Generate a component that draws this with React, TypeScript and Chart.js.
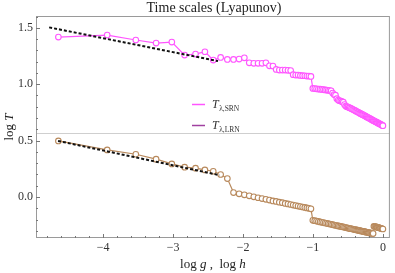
import React, { useEffect, useRef } from "react";
import { Chart, registerables } from "chart.js";

Chart.register(...registerables);

// log g (= log h) abscissae
const logG = [
  -4.640, -3.942, -3.533, -3.243, -3.018, -2.835, -2.679, -2.545, -2.426, -2.320,
  -2.224, -2.136, -2.056, -1.981, -1.911, -1.846, -1.785, -1.728, -1.673, -1.622,
  -1.572, -1.526, -1.481, -1.438, -1.397, -1.357, -1.319, -1.283, -1.247, -1.213,
  -1.180, -1.148, -1.117, -1.087, -1.058, -1.029, -1.002, -0.975, -0.949, -0.923,
  -0.898, -0.874, -0.850, -0.827, -0.805, -0.782, -0.761, -0.740, -0.719, -0.698,
  -0.678, -0.659, -0.640, -0.621, -0.602, -0.584, -0.566, -0.549, -0.532, -0.515,
  -0.498, -0.482, -0.466, -0.450, -0.434, -0.419, -0.404, -0.389, -0.374, -0.359,
  -0.345, -0.331, -0.317, -0.303, -0.290, -0.277, -0.263, -0.250, -0.238, -0.225,
  -0.212, -0.200, -0.188, -0.176, -0.164, -0.152, -0.140, -0.129, -0.117, -0.106,
  -0.095, -0.084, -0.073, -0.062, -0.052, -0.041, -0.031, -0.020, -0.010, 0,
];

// log T for the SRN (magenta) series
const tSRN = [
  1.418, 1.436, 1.392, 1.365, 1.374, 1.258, 1.267, 1.288, 1.214, 1.238,
  1.220, 1.220, 1.223, 1.234, 1.190, 1.185, 1.185, 1.185, 1.190, 1.163,
  1.161, 1.131, 1.125, 1.125, 1.125, 1.123, 1.121, 1.085, 1.081, 1.081,
  1.078, 1.076, 1.075, 1.072, 1.072, 1.069, 0.963, 0.961, 0.959, 0.957,
  0.956, 0.954, 0.952, 0.949, 0.948, 0.946, 0.944, 0.941, 0.921, 0.908,
  0.903, 0.872, 0.859, 0.854, 0.850, 0.845, 0.841, 0.819, 0.806, 0.801,
  0.797, 0.792, 0.788, 0.783, 0.778, 0.773, 0.768, 0.763, 0.758, 0.753,
  0.748, 0.743, 0.739, 0.734, 0.730, 0.726, 0.721, 0.717, 0.712, 0.708,
  0.704, 0.700, 0.695, 0.692, 0.687, 0.683, 0.679, 0.676, 0.671, 0.668,
  0.664, 0.661, 0.657, 0.653, 0.650, 0.647, 0.643, 0.639, 0.636, 0.632,
];

// log T for the LRN (brown) series
const tLRN = [
  0.497, 0.417, 0.379, 0.335, 0.293, 0.264, 0.255, 0.240, 0.228, 0.199,
  0.163, 0.039, 0.028, 0.019, 0.010, 0.001, -0.007, -0.014, -0.021, -0.028,
  -0.035, -0.040, -0.046, -0.051, -0.057, -0.062, -0.067, -0.072, -0.076, -0.081,
  -0.085, -0.089, -0.093, -0.097, -0.101, -0.105, -0.207, -0.210, -0.214, -0.217,
  -0.221, -0.225, -0.227, -0.231, -0.234, -0.237, -0.240, -0.242, -0.246, -0.249,
  -0.251, -0.254, -0.257, -0.259, -0.261, -0.264, -0.266, -0.269, -0.271, -0.274,
  -0.276, -0.278, -0.281, -0.282, -0.284, -0.287, -0.289, -0.290, -0.293, -0.295,
  -0.297, -0.298, -0.301, -0.303, -0.305, -0.306, -0.308, -0.310, -0.312, -0.313,
  -0.315, -0.317, -0.319, -0.321, -0.321, -0.323, -0.325, -0.260, -0.262, -0.264,
  -0.266, -0.268, -0.270, -0.272, -0.274, -0.276, -0.278, -0.280, -0.282, -0.284,
];

// dashed fit lines (end points)
const fitSRNx = [-4.772, -2.358];
const fitSRNy = [1.504, 1.205];
const fitLRNx = [-4.645, -2.334];
const fitLRNy = [0.497, 0.193];

const xTicks = [-4, -3, -2, -1, 0];
const yTicks = [0, 0.5, 1.0, 1.5];
const refLineY = 0.563;

const titleText = "Time scales (Lyapunov)";
const legendItems = [
  { sub: "λ,SRN", color: "#ff55ff" },
  { sub: "λ,LRN", color: "#a040a0" },
];

const MAGENTA = "#ff55ff";
const BROWN = "#b8895c";
const SERIF = "'Liberation Serif', 'DejaVu Serif', serif";

const framePlugin = {
  id: "mmaFrame",
  beforeDatasetsDraw(chart: any) {
    const { ctx, chartArea: a, scales } = chart;
    const ry = Math.round(scales.y.getPixelForValue(refLineY)) + 0.5;
    ctx.save();
    ctx.strokeStyle = "#cfcfcf";
    ctx.lineWidth = 1;
    ctx.beginPath();
    ctx.moveTo(a.left, ry);
    ctx.lineTo(a.right, ry);
    ctx.stroke();
    ctx.restore();
  },
  afterDraw(chart: any) {
    const { ctx, chartArea: a, scales } = chart;
    const xs = scales.x;
    const ys = scales.y;
    ctx.save();
    // frame
    ctx.strokeStyle = "#9a9a9a";
    ctx.lineWidth = 1;
    ctx.strokeRect(a.left + 0.5, a.top + 0.5, a.right - a.left - 1, a.bottom - a.top - 1);
    // ticks
    ctx.strokeStyle = "#777";
    ctx.beginPath();
    for (let i = -24; i <= 0; i++) {
      const v = i / 5;
      const px = Math.round(xs.getPixelForValue(v)) + 0.5;
      const len = i % 5 === 0 ? 4 : 2;
      ctx.moveTo(px, a.bottom);
      ctx.lineTo(px, a.bottom - len);
    }
    for (let i = -3; i <= 16; i++) {
      const v = i / 10;
      const py = Math.round(ys.getPixelForValue(v)) + 0.5;
      const len = i % 5 === 0 ? 4 : 2;
      ctx.moveTo(a.left, py);
      ctx.lineTo(a.left + len, py);
    }
    ctx.stroke();

    // title
    ctx.fillStyle = "#222";
    ctx.font = `14px ${SERIF}`;
    ctx.textAlign = "center";
    ctx.textBaseline = "middle";
    ctx.fillText(titleText, (a.left + a.right) / 2 + 1, 8.5);

    // x axis title: log g , log h
    const parts: [string, boolean][] = [["log ", false], ["g", true], [" ,  log ", false], ["h", true]];
    ctx.textAlign = "left";
    ctx.textBaseline = "alphabetic";
    let total = 0;
    for (const [t, it] of parts) {
      ctx.font = `${it ? "italic " : ""}13px ${SERIF}`;
      total += ctx.measureText(t).width;
    }
    let cx = (a.left + a.right) / 2 - total / 2;
    for (const [t, it] of parts) {
      ctx.font = `${it ? "italic " : ""}13px ${SERIF}`;
      ctx.fillText(t, cx, 268);
      cx += ctx.measureText(t).width;
    }

    // y axis title: log T
    ctx.save();
    ctx.translate(13, 127);
    ctx.rotate(-Math.PI / 2);
    const yparts: [string, boolean][] = [["log ", false], ["T", true]];
    let yt = 0;
    for (const [t, it] of yparts) {
      ctx.font = `${it ? "italic " : ""}13px ${SERIF}`;
      yt += ctx.measureText(t).width;
    }
    let cy = -yt / 2;
    for (const [t, it] of yparts) {
      ctx.font = `${it ? "italic " : ""}13px ${SERIF}`;
      ctx.fillText(t, cy, 0);
      cy += ctx.measureText(t).width;
    }
    ctx.restore();

    // legend
    legendItems.forEach((item, i) => {
      const ly = 104 + i * 21;
      ctx.strokeStyle = item.color;
      ctx.lineWidth = 1.5;
      ctx.beginPath();
      ctx.moveTo(192, ly + 0.5);
      ctx.lineTo(205, ly + 0.5);
      ctx.stroke();
      ctx.fillStyle = "#333";
      ctx.font = `italic 12px ${SERIF}`;
      ctx.textBaseline = "alphabetic";
      ctx.fillText("T", 212, ly + 4);
      const tw = ctx.measureText("T").width;
      ctx.font = `7.5px ${SERIF}`;
      ctx.fillText(item.sub, 212 + tw + 0.5, ly + 6.5);
    });
    ctx.restore();
  },
};

export default function App() {
  const ref = useRef<HTMLCanvasElement | null>(null);

  useEffect(() => {
    if (!ref.current) return;
    const chart = new Chart(ref.current, {
      type: "line",
      data: {
        datasets: [
          {
            label: "fit SRN",
            data: fitSRNx.map((x, i) => ({ x, y: fitSRNy[i] })),
            borderColor: "#111",
            borderWidth: 2,
            borderDash: [3, 2],
            pointRadius: 0,
            fill: false,
          },
          {
            label: "fit LRN",
            data: fitLRNx.map((x, i) => ({ x, y: fitLRNy[i] })),
            borderColor: "#111",
            borderWidth: 2,
            borderDash: [3, 2],
            pointRadius: 0,
            fill: false,
          },
          {
            label: "T SRN",
            data: logG.map((x, i) => ({ x, y: tSRN[i] })),
            borderColor: MAGENTA,
            borderWidth: 1.2,
            pointRadius: 2.8,
            pointBorderWidth: 1.1,
            pointBorderColor: MAGENTA,
            pointBackgroundColor: "#fff",
            fill: false,
          },
          {
            label: "T LRN",
            data: logG.map((x, i) => ({ x, y: tLRN[i] })),
            borderColor: BROWN,
            borderWidth: 1.2,
            pointRadius: 2.8,
            pointBorderWidth: 1.1,
            pointBorderColor: BROWN,
            pointBackgroundColor: "#fff",
            fill: false,
          },
        ],
      },
      options: {
        animation: false,
        responsive: false,
        maintainAspectRatio: false,
        devicePixelRatio: 1,
        layout: { padding: { top: 16, right: 1, left: 0, bottom: 0 } },
        plugins: { legend: { display: false }, tooltip: { enabled: false }, title: { display: false } },
        elements: { line: { tension: 0 } },
        scales: {
          x: {
            type: "linear",
            min: -4.96,
            max: 0.1,
            grid: { display: false, drawTicks: false },
            border: { display: false },
            afterBuildTicks: (s: any) => {
              s.ticks = xTicks.map((v) => ({ value: v }));
            },
            afterFit: (s: any) => {
              s.height = 35;
            },
            ticks: {
              padding: 3,
              maxRotation: 0,
              autoSkip: false,
              color: "#333",
              font: { family: SERIF, size: 12 },
              callback: (v: any) => (Number(v) < 0 ? "\u2212" + Math.abs(Number(v)) : String(v)),
            },
          },
          y: {
            type: "linear",
            min: -0.364,
            max: 1.605,
            grid: { display: false, drawTicks: false },
            border: { display: false },
            afterBuildTicks: (s: any) => {
              s.ticks = yTicks.map((v) => ({ value: v }));
            },
            afterFit: (s: any) => {
              s.width = 36;
            },
            ticks: {
              padding: 3,
              autoSkip: false,
              color: "#333",
              font: { family: SERIF, size: 12 },
              callback: (v: any) => Number(v).toFixed(1),
            },
          },
        },
      },
      plugins: [framePlugin],
    });
    return () => chart.destroy();
  }, []);

  return (
    <div style={{ position: "fixed", left: 0, top: 0, width: 395, height: 273, background: "#fff" }}>
      <canvas ref={ref} width={395} height={273} style={{ width: 395, height: 273, display: "block" }} />
    </div>
  );
}
